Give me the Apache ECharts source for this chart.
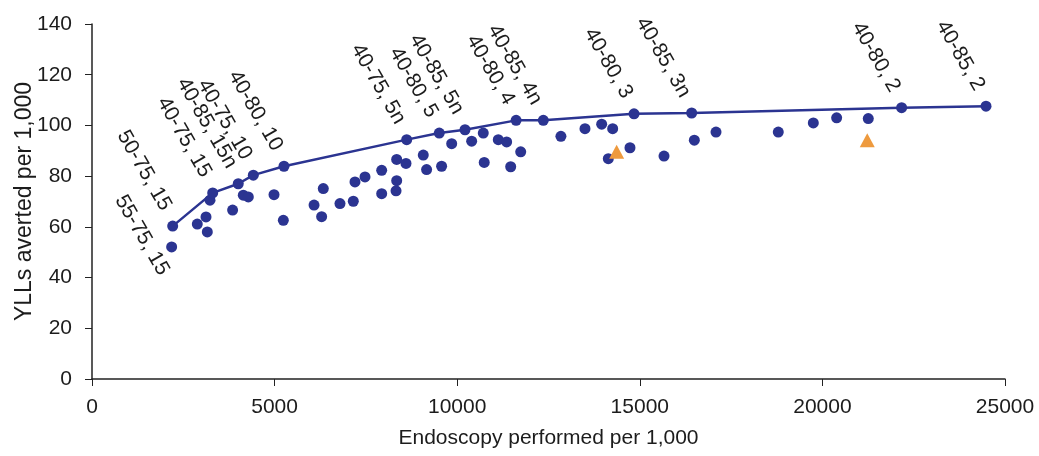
<!DOCTYPE html>
<html>
<head>
<meta charset="UTF-8">
<title>YLLs averted vs endoscopy</title>
<script type="text/javascript" src="https://cdn.jsdelivr.net/npm/echarts@6/dist/echarts.min.js"></script>
<style>
  html, body { margin: 0; padding: 0; background: #fff; }
</style>
</head>
<body>
<div id="main" style="width: 1039px;height:456px;"></div>
<script type="text/javascript">

  // efficient frontier (connected points) and their strategy labels
  var frontX = [2209, 3305, 4005, 4417, 5257, 8617, 9509, 10214, 11613, 12358, 14842, 16420, 22169, 24480];
  var frontY = [60.3, 73.4, 77.0, 80.4, 83.9, 94.4, 97.0, 98.3, 102.0, 102.0, 104.6, 104.9, 107.0, 107.6];
  var frontLabels = ['50-75, 15', '40-75, 15', '40-85, 15n', '40-75, 10', '40-80, 10',
    '40-75, 5n', '40-80, 5', '40-85, 5n', '40-80, 4', '40-85, 4n',
    '40-80, 3', '40-85, 3n', '40-80, 2', '40-85, 2'];

  // dominated strategies (blue dots)
  var dotX = [2181, 2883, 3122, 3157, 3231, 3850, 4143, 4280, 4984, 5239,
    6080, 6288, 6333, 6790, 7155, 7201, 7475, 7932, 7932, 8343,
    8598, 8343, 8325, 9071, 9162, 9573, 9849, 10396, 10714, 10740,
    11125, 11354, 11739, 11465, 12840, 13499, 13956, 14257, 14138, 14731,
    15663, 16493, 17087, 18792, 19751, 20390, 21256];
  var dotY = [52.1, 61.1, 63.9, 58.0, 70.5, 66.6, 72.5, 71.8, 72.7, 62.6,
    68.6, 64.0, 75.1, 69.2, 70.1, 77.7, 79.7, 82.3, 73.1, 86.6,
    85.0, 78.2, 74.2, 88.3, 82.6, 83.9, 92.8, 93.8, 97.0, 85.4,
    94.4, 93.5, 89.6, 83.7, 95.7, 98.7, 100.5, 98.7, 86.9, 91.2,
    87.9, 94.2, 97.4, 97.4, 101.0, 103.0, 102.7];
  // the only labelled dominated point
  var dotLabelIndex = 0;
  var dotLabelText = '55-75, 15';

  // orange triangles
  var triX = [14366, 21228];
  var triY = [89.6, 94.2];

  var xTicks = { min: 0, max: 25000, interval: 5000 };
  var yTicks = { min: 0, max: 140, interval: 20 };

  var blue = '#2b3491';
  var orange = '#ee9a3e';
  var txt = '#1c1c1c';
  var font = "'Liberation Sans', Arial, sans-serif";

  var frontData = frontX.map(function (x, i) { return [x, frontY[i]]; });
  var dotData = dotX.map(function (x, i) {
    var item = { value: [x, dotY[i]] };
    if (i === dotLabelIndex) {
      item.label = {
        show: true,
        formatter: dotLabelText,
        position: 'inside',
        rotate: -60,
        align: 'center',
        verticalAlign: 'middle',
        offset: [-25, 20],
        color: txt,
        fontSize: 21,
        fontFamily: font
      };
    }
    return item;
  });
  var triData = triX.map(function (x, i) { return [x, triY[i]]; });

  var myChart = echarts.init(document.getElementById('main'));
  var option = {
    animation: false,
    backgroundColor: '#fff',
    grid: { left: 92, right: 34, top: 24, bottom: 77, outerBoundsMode: 'none', containLabel: false },
    xAxis: {
      type: 'value',
      min: xTicks.min, max: xTicks.max, interval: xTicks.interval,
      name: 'Endoscopy performed per 1,000',
      nameLocation: 'middle',
      nameGap: 49,
      nameTextStyle: { color: txt, fontSize: 21, fontFamily: font },
      axisLine: { show: true, lineStyle: { color: '#222', width: 1.5 } },
      axisTick: { show: true, length: 7, lineStyle: { color: '#222' } },
      axisLabel: {
        color: txt, fontSize: 21, fontFamily: font, margin: 18,
        formatter: function (v) { return String(v); }
      },
      splitLine: { show: false }
    },
    yAxis: {
      type: 'value',
      min: yTicks.min, max: yTicks.max, interval: yTicks.interval,
      name: 'YLLs averted per 1,000',
      nameLocation: 'middle',
      nameGap: 56,
      nameMoveOverlap: false,
      nameTextStyle: { color: txt, fontSize: 23, fontFamily: font },
      axisLine: { show: true, lineStyle: { color: '#222', width: 1.5 } },
      axisTick: { show: true, length: 7, lineStyle: { color: '#222' } },
      axisLabel: { color: txt, fontSize: 21, fontFamily: font, margin: 20 },
      splitLine: { show: false }
    },
    series: [
      {
        type: 'scatter',
        data: dotData,
        symbol: 'circle',
        symbolSize: 11,
        itemStyle: { color: blue, opacity: 1 },
        z: 2
      },
      {
        type: 'line',
        data: frontData,
        symbol: 'circle',
        symbolSize: 11,
        showAllSymbol: true,
        lineStyle: { color: blue, width: 2.5 },
        itemStyle: { color: blue },
        label: {
          show: true,
          formatter: function (p) { return frontLabels[p.dataIndex]; },
          position: 'inside',
          rotate: -60,
          align: 'right',
          verticalAlign: 'middle',
          offset: [-18, -3],
          color: txt,
          fontSize: 21,
          fontFamily: font
        },
        z: 3
      },
      {
        type: 'scatter',
        data: triData,
        symbol: 'triangle',
        symbolSize: [15, 14],
        itemStyle: { color: orange, opacity: 1 },
        z: 4
      }
    ]
  };
  myChart.setOption(option);
</script>
</body>
</html>
